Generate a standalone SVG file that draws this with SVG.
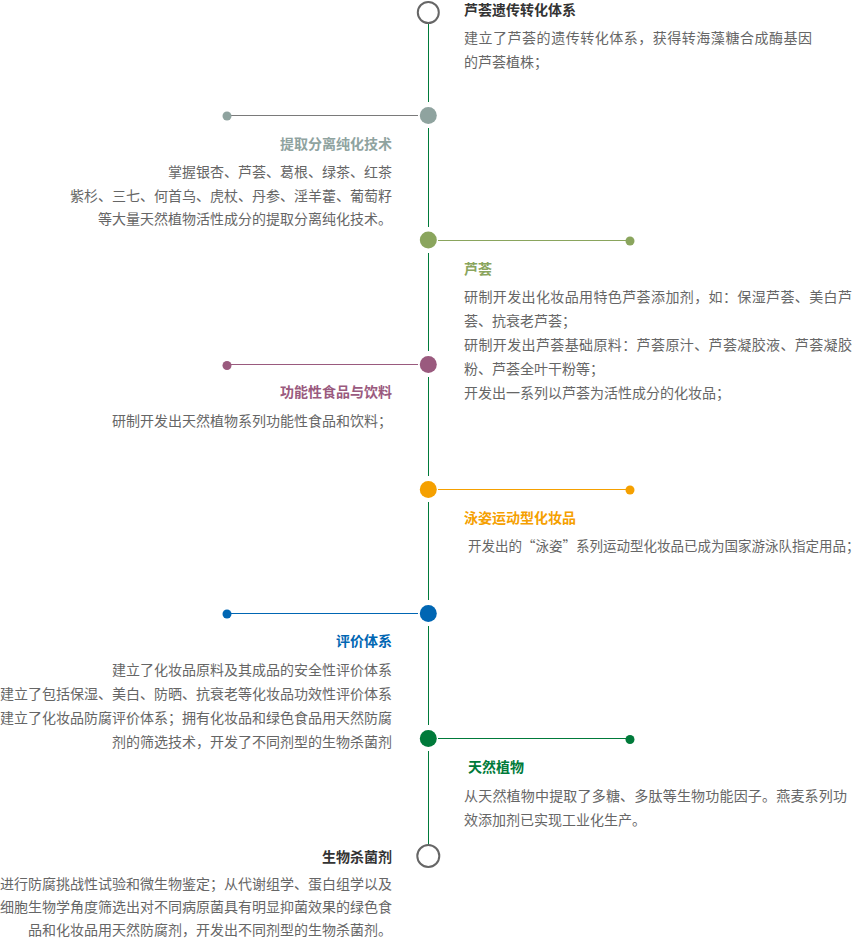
<svg xmlns="http://www.w3.org/2000/svg" width="868" height="940" viewBox="0 0 868 940">
<style>
text{font-family:"Noto Sans CJK SC","Microsoft YaHei","Noto Sans",sans-serif;font-size:14px}
.t{font-weight:bold}
.b{fill:#666}
.r{text-anchor:end}
.vl{stroke:#007a3a;stroke-width:1;fill:none}
.ring{fill:#fff;stroke:#666;stroke-width:2}
</style>
<rect width="868" height="940" fill="#fff"/>
<g id="connectors">
<path class="vl" d="M428.5 24V102M428.5 128V227M428.5 253V351M428.5 377V476M428.5 502V600M428.5 626V725M428.5 751V845"/>
<line x1="227" y1="115.5" x2="418" y2="115.5" stroke="#7a7a7a" stroke-width="1"/>
<line x1="438" y1="240.5" x2="630" y2="240.5" stroke="#8aa55d" stroke-width="1"/>
<line x1="227" y1="364.5" x2="418" y2="364.5" stroke="#9a5a7e" stroke-width="1"/>
<line x1="438" y1="489.5" x2="630" y2="489.5" stroke="#f5a000" stroke-width="1"/>
<line x1="227" y1="613.5" x2="418" y2="613.5" stroke="#0066b3" stroke-width="1"/>
<line x1="438" y1="738.5" x2="630" y2="738.5" stroke="#007a3a" stroke-width="1"/>
</g>
<g id="n1">
<circle class="ring" cx="428.3" cy="12.5" r="10.5"/>
<text class="t" x="464" y="15" fill="#333">芦荟遗传转化体系</text>
<text class="b" x="464" y="43" textLength="348" lengthAdjust="spacing">建立了芦荟的遗传转化体系，获得转海藻糖合成酶基因</text>
<text class="b" x="464" y="67">的芦荟植株；</text>
</g>
<g id="n2">
<circle cx="428.3" cy="115.5" r="8.5" fill="#8fa39f"/>
<circle cx="227" cy="116" r="4.5" fill="#8fa39f"/>
<text class="t r" x="392" y="149" fill="#8fa39f">提取分离纯化技术</text>
<text class="b r" x="392" y="177">掌握银杏、芦荟、葛根、绿茶、红茶</text>
<text class="b r" x="392" y="201">紫杉、三七、何首乌、虎杖、丹参、淫羊藿、葡萄籽</text>
<text class="b r" x="392" y="224">等大量天然植物活性成分的提取分离纯化技术。</text>
</g>
<g id="n3">
<circle cx="428.3" cy="240" r="8.5" fill="#8aa55d"/>
<circle cx="630" cy="241" r="4.5" fill="#8aa55d"/>
<text class="t" x="464" y="274" fill="#8aa55d">芦荟</text>
<text class="b" x="464" y="302" textLength="388" lengthAdjust="spacing">研制开发出化妆品用特色芦荟添加剂，如：保湿芦荟、美白芦</text>
<text class="b" x="464" y="326">荟、抗衰老芦荟；</text>
<text class="b" x="464" y="350" textLength="388" lengthAdjust="spacing">研制开发出芦荟基础原料：芦荟原汁、芦荟凝胶液、芦荟凝胶</text>
<text class="b" x="464" y="374">粉、芦荟全叶干粉等；</text>
<text class="b" x="464" y="398">开发出一系列以芦荟为活性成分的化妆品；</text>
</g>
<g id="n4">
<circle cx="428.3" cy="364.5" r="8.5" fill="#9a5a7e"/>
<circle cx="227" cy="365.5" r="4.5" fill="#9a5a7e"/>
<text class="t r" x="392" y="397" fill="#9a5a7e">功能性食品与饮料</text>
<text class="b r" x="392" y="426">研制开发出天然植物系列功能性食品和饮料；</text>
</g>
<g id="n5">
<circle cx="428.3" cy="489.5" r="8.5" fill="#f5a000"/>
<circle cx="630" cy="490" r="4.5" fill="#f5a000"/>
<text class="t" x="464" y="523" fill="#f5a000">泳姿运动型化妆品</text>
<text class="b" x="468" y="551" style="font-size:13.5px">开发出的“泳姿”系列运动型化妆品已成为国家游泳队指定用品；</text>
</g>
<g id="n6">
<circle cx="428.3" cy="613.5" r="8.5" fill="#0066b3"/>
<circle cx="227" cy="614" r="4.5" fill="#0066b3"/>
<text class="t r" x="392" y="646" fill="#0066b3">评价体系</text>
<text class="b r" x="392" y="675">建立了化妆品原料及其成品的安全性评价体系</text>
<text class="b r" x="392" y="699">建立了包括保湿、美白、防晒、抗衰老等化妆品功效性评价体系</text>
<text class="b r" x="392" y="723">建立了化妆品防腐评价体系；拥有化妆品和绿色食品用天然防腐</text>
<text class="b r" x="392" y="747">剂的筛选技术，开发了不同剂型的生物杀菌剂</text>
</g>
<g id="n7">
<circle cx="428.3" cy="738.5" r="8.5" fill="#007a3a"/>
<circle cx="630" cy="739.5" r="4.5" fill="#007a3a"/>
<text class="t" x="468" y="772" fill="#007a3a">天然植物</text>
<text class="b" x="464" y="801" textLength="383" lengthAdjust="spacing">从天然植物中提取了多糖、多肽等生物功能因子。燕麦系列功</text>
<text class="b" x="464" y="825">效添加剂已实现工业化生产。</text>
</g>
<g id="n8">
<circle class="ring" cx="428.3" cy="856" r="11"/>
<text class="t r" x="392" y="862" fill="#333">生物杀菌剂</text>
<text class="b r" x="392" y="889">进行防腐挑战性试验和微生物鉴定；从代谢组学、蛋白组学以及</text>
<text class="b r" x="392" y="912">细胞生物学角度筛选出对不同病原菌具有明显抑菌效果的绿色食</text>
<text class="b r" x="392" y="935">品和化妆品用天然防腐剂，开发出不同剂型的生物杀菌剂。</text>
</g>
</svg>
